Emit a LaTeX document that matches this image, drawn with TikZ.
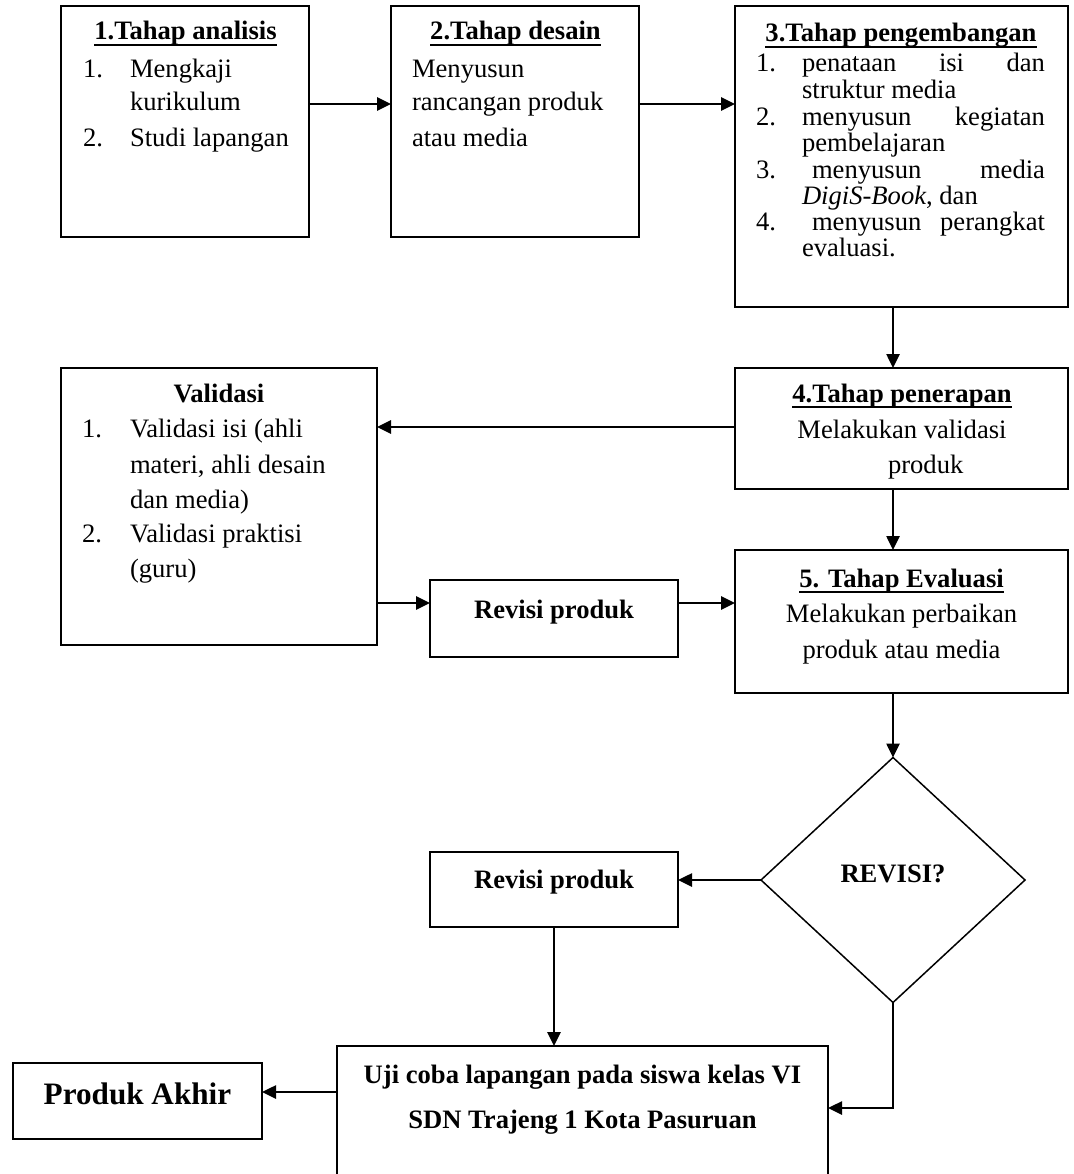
\documentclass[tikz,border=0pt]{standalone}
\usepackage{fontspec}
\setmainfont{Liberation Serif}
\usetikzlibrary{shapes.geometric,arrows.meta,calc}
\begin{document}
\begin{tikzpicture}[x=1pt,y=-1pt,
  every node/.style={inner sep=0pt, outer sep=0pt},
  box/.style={draw, rectangle, line width=1.8pt},
  txt/.style={font=\fontsize{26.6}{30}\selectfont, anchor=base west},
  ctxt/.style={font=\fontsize{26.6}{30}\selectfont, anchor=base},
  btxt/.style={font=\fontsize{26.6}{30}\selectfont\bfseries, anchor=base},
  arr/.style={line width=2.6pt, -{Triangle[length=14pt,width=13pt]}},
  ulin/.style={line width=1.8pt}
]
\useasboundingbox (0,0) rectangle (1073,1174);
\clip (0,0) rectangle (1073,1174);

% boxes
\node[box, minimum width=248pt, minimum height=231pt] (b1) at (185,121.5) {};
\node[box, minimum width=248pt, minimum height=231pt] (b2) at (515,121.5) {};
\node[box, minimum width=333pt, minimum height=301pt] (b3) at (901.5,156.5) {};
\node[box, minimum width=333pt, minimum height=121pt] (b4) at (901.5,428.5) {};
\node[box, minimum width=333pt, minimum height=143pt] (b5) at (901.5,621.5) {};
\node[box, minimum width=316pt, minimum height=277pt] (val) at (219,506.5) {};
\node[box, minimum width=248pt, minimum height=77pt] (rev1) at (554,618.5) {};
\node[box, minimum width=248pt, minimum height=75pt] (rev2) at (554,889.5) {};
\node[draw, diamond, line width=1.5pt, minimum width=264pt, minimum height=245pt] (dia) at (893,880) {};
\node[box, minimum width=491pt, minimum height=160pt] (uji) at (582.5,1126) {};
\node[box, minimum width=249pt, minimum height=76pt] (pa) at (137.5,1101) {};

% box 1
\node[btxt] (t1) at (185.5,40) {1.Tahap analisis};
\draw[ulin] ($(t1.base west)+(0,5)$) -- ($(t1.base east)+(0,5)$);
\node[txt] (n11) at (83,78) {1.};
\node[txt] (l11) at (130,78) {Mengkaji};
\node[txt] (l12) at (130,111) {kurikulum};
\node[txt] (n12) at (83,147) {2.};
\node[txt] (l13) at (130,147) {Studi lapangan};

% box 2
\node[btxt] (t2) at (515.5,40) {2.Tahap desain};
\draw[ulin] ($(t2.base west)+(0,5)$) -- ($(t2.base east)+(0,5)$);
\node[txt] (l21) at (412,78) {Menyusun};
\node[txt] (l22) at (412,111) {rancangan produk};
\node[txt] (l23) at (412,147) {atau media};

% box 3
\node[btxt] (t3) at (901,42) {3.Tahap pengembangan};
\draw[ulin] ($(t3.base west)+(0,5)$) -- ($(t3.base east)+(0,5)$);
\node[txt] (n31) at (756,72) {1.};
\node[txt] (l31) at (802,72) {\makebox[243pt][s]{penataan\hfill isi\hfill dan}};
\node[txt] (l32) at (802,99) {struktur media};
\node[txt] (n32) at (756,126) {2.};
\node[txt] (l33) at (802,126) {\makebox[243pt][s]{menyusun\hfill kegiatan}};
\node[txt] (l34) at (802,152) {pembelajaran};
\node[txt] (n33) at (756,179) {3.};
\node[txt] (l35) at (812,179) {\makebox[233pt][s]{menyusun\hfill media}};
\node[txt] (l36) at (802,205) {\textit{DigiS-Book}, dan};
\node[txt] (n34) at (756,231) {4.};
\node[txt] (l37) at (812,231) {\makebox[233pt][s]{menyusun\hfill perangkat}};
\node[txt] (l38) at (802,256) {evaluasi.};

% box 4
\node[btxt] (t4) at (902,402) {4.Tahap penerapan};
\draw[ulin] ($(t4.base west)+(0,5)$) -- ($(t4.base east)+(0,5)$);
\node[ctxt] (l41) at (902,438) {Melakukan validasi};
\node[txt] (l42) at (888,473) {produk};

% box 5
\node[btxt] (t5) at (901.5,587) {5. Tahap Evaluasi};
\draw[ulin] ($(t5.base west)+(0,5)$) -- ($(t5.base east)+(0,5)$);
\node[ctxt] (l51) at (901.5,622) {Melakukan perbaikan};
\node[ctxt] (l52) at (901.5,658) {produk atau media};

% validasi
\node[btxt] (tv) at (219,402) {Validasi};
\node[txt] (nv1) at (82,437) {1.};
\node[txt] (lv1) at (130,437) {Validasi isi (ahli};
\node[txt] (lv2) at (130,473) {materi, ahli desain};
\node[txt] (lv3) at (130,508) {dan media)};
\node[txt] (nv2) at (82,542) {2.};
\node[txt] (lv4) at (130,542) {Validasi praktisi};
\node[txt] (lv5) at (130,577) {(guru)};

% other texts
\node[btxt] (tr1) at (554,618) {Revisi produk};
\node[btxt] (tr2) at (554,888) {Revisi produk};
\node[btxt] (td) at (893,882) {REVISI?};
\node[btxt] (tu1) at (582.5,1083) {Uji coba lapangan pada siswa kelas VI};
\node[btxt] (tu2) at (582.5,1128) {SDN Trajeng 1 Kota Pasuruan};
\node[font=\fontsize{31.2}{36}\selectfont\bfseries, anchor=base] (tpa) at (137.5,1104) {Produk Akhir};

% connectors
\coordinate (y1) at (0,104);
\coordinate (x1) at (893,0);
\coordinate (y2) at (0,427);
\coordinate (y3) at (0,603);
\coordinate (y4) at (0,1108);
\coordinate (y5) at (0,1092);
\draw[arr] (b1.east |- y1) -- (b2.west |- y1);
\draw[arr] (b2.east |- y1) -- (b3.west |- y1);
\draw[arr] (b3.south -| x1) -- (b4.north -| x1);
\draw[arr] (b4.west |- y2) -- (val.east |- y2);
\draw[arr] (b4.south -| x1) -- (b5.north -| x1);
\draw[arr] (val.east |- y3) -- (rev1.west |- y3);
\draw[arr] (rev1.east |- y3) -- (b5.west |- y3);
\draw[arr] (b5.south -| x1) -- (dia.north);
\draw[arr] (dia.west) -- (rev2.east |- dia.west);
\draw[arr] (rev2.south) -- (uji.north -| rev2.south);
\draw[arr] (dia.south) |- (uji.east |- y4);
\draw[arr] (uji.west |- y5) -- (pa.east |- y5);
\end{tikzpicture}
\end{document}
